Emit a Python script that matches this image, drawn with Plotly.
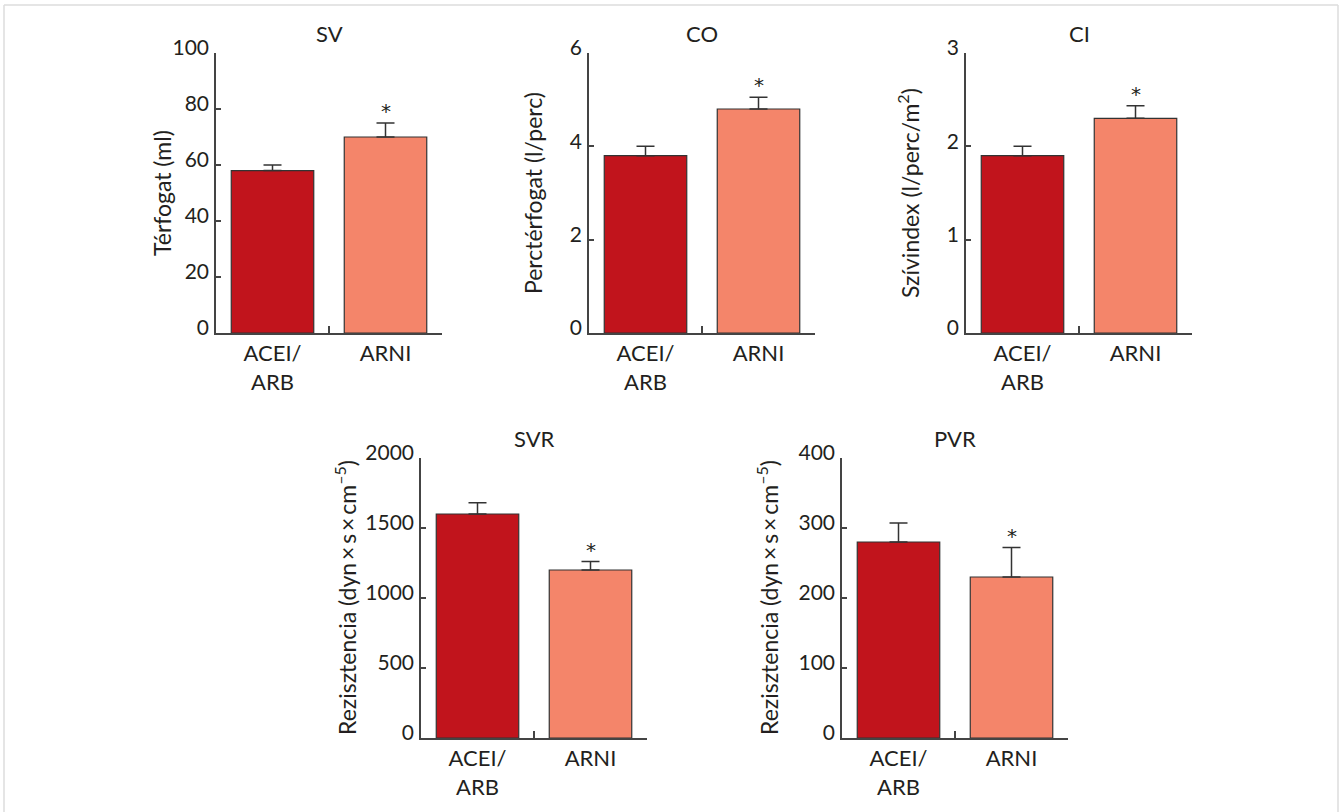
import plotly.graph_objects as go

W, H = 1339, 812

# ---------------- data ----------------
categories = ["ACEI/<br>ARB", "ARNI"]
panel_titles = ["SV", "CO", "CI", "SVR", "PVR"]
y_titles = [
    "Térfogat (ml)",
    "Perctérfogat (l/perc)",
    "Szívindex (l/perc/m<sup>2</sup>)",
    "Rezisztencia (dyn\u2009×\u2009s\u2009×\u2009cm<sup>–5</sup>)",
    "Rezisztencia (dyn\u2009×\u2009s\u2009×\u2009cm<sup>–5</sup>)",
]
sv_vals = [58, 70]
sv_err = [2, 5]
co_vals = [3.8, 4.8]
co_err = [0.2, 0.25]
ci_vals = [1.9, 2.3]
ci_err = [0.1, 0.135]
svr_vals = [1600, 1200]
svr_err = [80, 60]
pvr_vals = [280, 230]
pvr_err = [27, 42]
significant = [False, True]
y_max = [100, 6, 3, 2000, 400]
y_dtick = [20, 2, 1, 500, 100]

values = [sv_vals, co_vals, ci_vals, svr_vals, pvr_vals]
errors = [sv_err, co_err, ci_err, svr_err, pvr_err]

# ---------------- styling / layout ----------------
bar_colors = ["#C1141C", "#F4856A"]
text_color = "#231F20"
line_color = "#444444"
FONT = "Lato, 'Open Sans', sans-serif"

# panel pixel boxes: (x_left, x_right, y_top, y_bottom)
boxes = [
    (216, 442, 53, 333),
    (589, 815, 53, 333),
    (966, 1192, 53, 333),
    (421, 647, 458, 738),
    (842, 1068, 458, 738),
]
ytitle_shift = [-54, -56, -58, -76, -75]

fig = go.Figure()
annotations = []
layout_axes = {}

for i in range(5):
    n = "" if i == 0 else str(i + 1)
    xl, xr, yt, yb = boxes[i]
    xdom = [xl / W, xr / W]
    ydom = [1 - yb / H, 1 - yt / H]

    fig.add_trace(go.Bar(
        x=categories,
        y=values[i],
        width=0.73,
        marker=dict(color=bar_colors, line=dict(color="#333333", width=1.2)),
        error_y=dict(type="data", array=errors[i], arrayminus=[0, 0],
                     symmetric=False, color="#333333", thickness=1.5, width=9),
        xaxis="x" + n, yaxis="y" + n,
        showlegend=False, hoverinfo="skip",
    ))

    layout_axes["xaxis" + n] = dict(
        domain=xdom, anchor="y" + n, type="category", automargin=False,
        range=[-0.5, 1.5], showline=True, linecolor=line_color, linewidth=1.5,
        ticks="inside", tickson="boundaries", ticklen=7, tickwidth=1.5,
        tickcolor=line_color, showgrid=False, zeroline=False,
        tickfont=dict(size=22, color=text_color, family=FONT, weight="normal"),
        fixedrange=True,
    )
    layout_axes["yaxis" + n] = dict(
        domain=ydom, anchor="x" + n, range=[0, y_max[i]], automargin=False,
        tick0=0, dtick=y_dtick[i], showline=True, linecolor=line_color,
        linewidth=1.5, ticks="inside", ticklen=5, tickwidth=1.5,
        tickcolor=line_color, showgrid=False, zeroline=False,
        ticklabelstandoff=1, ticklabelshift=-5,
        tickfont=dict(size=21, color=text_color, family=FONT, weight="normal"),
        fixedrange=True,
    )

    # panel title
    annotations.append(dict(
        text=panel_titles[i], xref="x" + n + " domain", yref="y" + n + " domain",
        x=0.5, y=1, xanchor="center", yanchor="bottom", yshift=4,
        showarrow=False,
        font=dict(size=22, color=text_color, family=FONT, weight="normal"),
    ))
    # y axis title
    annotations.append(dict(
        text=y_titles[i], xref="x" + n + " domain", yref="y" + n + " domain",
        x=0, y=0.5, xanchor="center", yanchor="middle", xshift=ytitle_shift[i],
        textangle=-90, showarrow=False,
        font=dict(size=23, color=text_color, family=FONT, weight="normal"),
    ))
    # significance asterisks
    for j, sig in enumerate(significant):
        if sig:
            annotations.append(dict(
                text="*", xref="x" + n, yref="y" + n,
                x=categories[j], y=values[i][j] + errors[i][j],
                xanchor="center", yanchor="bottom", yshift=-2,
                showarrow=False,
                font=dict(size=20, color=text_color, family="DejaVu Sans"),
            ))

# light frame around the figure
shapes = [
    dict(type="line", xref="paper", yref="paper", x0=4 / W, x1=1338 / W,
         y0=1 - 5 / H, y1=1 - 5 / H, line=dict(color="#DDDDDD", width=1.5)),
    dict(type="line", xref="paper", yref="paper", x0=4 / W, x1=4 / W,
         y0=1 - 5 / H, y1=0, line=dict(color="#DDDDDD", width=1.5)),
    dict(type="line", xref="paper", yref="paper", x0=1338 / W, x1=1338 / W,
         y0=1 - 5 / H, y1=0, line=dict(color="#DDDDDD", width=1.5)),
]

fig.update_layout(
    width=W, height=H,
    margin=dict(l=0, r=0, t=0, b=0, autoexpand=False),
    paper_bgcolor="white", plot_bgcolor="white",
    font=dict(family=FONT, color=text_color),
    annotations=annotations, shapes=shapes,
    **layout_axes,
)

fig.write_html(
    "out.html",
    config={"displayModeBar": False},
    post_script="document.body.style.margin='0';document.body.style.overflow='hidden';",
)
